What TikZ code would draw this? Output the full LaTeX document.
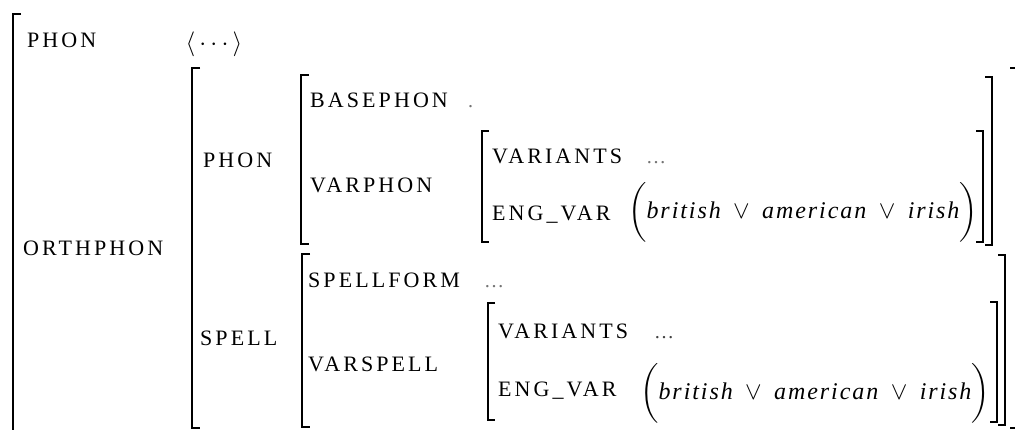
\documentclass[tikz,border=0pt]{standalone}
\usepackage{amsmath}
\usepackage{fontspec}
\setmainfont{Liberation Serif}
% letter-spaced roman for feature names, lightly spaced family for values
\newfontfamily\featfont[LetterSpace=14]{Liberation Serif}
\newfontfamily\valfont[LetterSpace=8]{Liberation Serif}

\begin{document}
\begin{tikzpicture}[x=1pt,y=-1pt,
  feat/.style={anchor=base west, inner sep=0pt,
    font=\featfont\fontsize{22}{26}\selectfont},
  dotsn/.style={anchor=base west, inner sep=0pt,
    font=\fontsize{20}{24}\selectfont, text=black!55},
  val/.style={anchor=east, inner sep=0pt,
    font=\valfont\fontsize{24}{28}\selectfont},
  brk/.style={line width=1.7pt, line cap=butt, line join=miter}]

\useasboundingbox (0,0) rectangle (1015,430);

% ---- outer structure ----
\draw[brk] (21,14) -- (13,14) -- (13,445);
\node[feat] (phon) at (27,48) {PHON};
\node[anchor=center, inner sep=0pt, font=\fontsize{25}{28}\selectfont]
  (phonval) at (214,44) {$\langle\,\cdots\,\rangle$};
\node[feat] (orth) at (23,256) {ORTHPHON};

% ORTHPHON value
\draw[brk] (200,68) -- (192,68) -- (192,428) -- (200,428);
\draw[brk] (1010,68) -- (1017,68) -- (1017,428) -- (1010,428);

% ---- PHON ----
\node[feat] (iphon) at (203,168) {PHON};
\draw[brk] (309,75) -- (301,75) -- (301,244) -- (309,244);
\draw[brk] (985,77) -- (992,77) -- (992,245) -- (985,245);
\node[feat] (basephon) at (310,108) {BASEPHON};
\node[dotsn] (basedots) at (468,108) {.};
\node[feat] (varphon) at (310,193) {VARPHON};
\draw[brk] (489,131) -- (482,131) -- (482,242) -- (489,242);
\draw[brk] (976,131) -- (983,131) -- (983,242) -- (976,242);
\node[feat] (pvariants) at (492,164) {VARIANTS};
\node[dotsn] (pvdots) at (646,164) {\ldots};
\node[feat] (pengvar) at (492,221) {ENG\_VAR};
\node[val] (pdisj) at (978,212) {$\biggl(\textit{british}\;\vee\;\textit{american}\;\vee\;\textit{irish}\biggr)$};

% ---- SPELL ----
\node[feat] (spell) at (200,346) {SPELL};
\draw[brk] (310,254) -- (302,254) -- (302,427) -- (310,427);
\draw[brk] (998,255) -- (1005,255) -- (1005,425) -- (998,425);
\node[feat] (spellform) at (308,288) {SPELLFORM};
\node[dotsn] (sfdots) at (484,288) {\ldots};
\node[feat] (varspell) at (308,371) {VARSPELL};
\draw[brk] (495,303) -- (488,303) -- (488,420) -- (495,420);
\draw[brk] (990,302) -- (997,302) -- (997,422) -- (990,422);
\node[feat] (svariants) at (498,339) {VARIANTS};
\node[dotsn, text=black!75] (svdots) at (654,339) {\ldots};
\node[feat] (sengvar) at (498,396) {ENG\_VAR};
\node[val] (sdisj) at (990,393) {$\biggl(\textit{british}\;\vee\;\textit{american}\;\vee\;\textit{irish}\biggr)$};

\end{tikzpicture}
\end{document}
